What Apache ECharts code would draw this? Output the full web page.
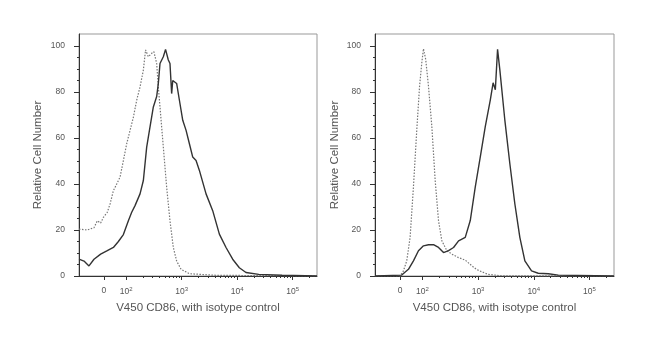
<!DOCTYPE html>
<html><head><meta charset="utf-8">
<script src="https://cdn.jsdelivr.net/npm/echarts@6/dist/echarts.min.js"></script>
<style>html,body{margin:0;padding:0;background:#fff}#c{width:650px;height:347px}</style>
</head><body><div id="c"></div>
<script>
// x values are in display units of the logicle axis (decades: 2 = 10^2, 3 = 10^3 ...; 1.6 = 0)
var xTickValues = [1.6, 2, 3, 4, 5];
var xTickLabels = ['0', '10{s|2}', '10{s|3}', '10{s|4}', '10{s|5}'];
var yTickValues = [0, 20, 40, 60, 80, 100];
var yTitle = 'Relative Cell Number';
var xTitle = 'V450 CD86, with isotype control';

// Left panel
var leftSolidX = [1.15,1.24,1.33,1.42,1.54,1.66,1.77,1.86,1.95,2.04,2.10,2.16,2.25,2.31,2.37,2.43,2.49,2.55,2.58,2.61,2.67,2.71,2.76,2.79,2.82,2.84,2.91,2.96,3.02,3.08,3.14,3.20,3.26,3.32,3.44,3.56,3.68,3.80,3.92,4.04,4.16,4.39,4.81,5.44];
var leftSolidY = [7.3,6.5,4.4,7.3,9.5,11,12.4,15,18,24,27.7,30.6,35.7,41.5,56,64.8,73.5,78,83.7,92.4,95.3,98.5,93.9,92.4,79.3,85,83.7,76.4,67.7,63.3,57.5,51.7,50.2,45.9,35.7,28.4,18.2,12.4,7.3,3.6,1.5,0.7,0.3,0];
var leftDotX = [1.15,1.30,1.42,1.48,1.54,1.59,1.66,1.71,1.77,1.83,1.89,1.95,2.01,2.07,2.13,2.19,2.25,2.31,2.35,2.40,2.46,2.50,2.55,2.58,2.61,2.67,2.73,2.79,2.85,2.91,2.99,3.14,3.62,5.44];
var leftDotY = [20.4,20,21,24,23,25.5,27.7,31.3,37.1,40,43,50.2,57.5,63.3,69,76.4,82.2,89.5,98.3,95.3,96.8,97.5,92.4,82.2,73.5,56,38.6,24,12.4,6.5,2.9,1,0.3,0];

// Right panel
var rightSolidX = [1.15,1.63,1.75,1.84,1.93,2.02,2.11,2.20,2.29,2.38,2.47,2.56,2.65,2.77,2.86,2.95,3.04,3.13,3.22,3.27,3.31,3.35,3.39,3.48,3.57,3.66,3.75,3.84,3.96,4.08,4.26,4.44,5.44];
var rightSolidY = [0,0.4,2.9,6.6,11,13.1,13.6,13.6,12.4,10.2,11,12.4,15.3,16.8,24.1,38.7,51.8,65,76.6,84,81,98.5,89.8,67.9,48.9,31.4,16.8,6.6,2.2,1.2,1,0.4,0];
var rightDotX = [1.15,1.60,1.66,1.72,1.78,1.84,1.90,1.95,1.99,2.02,2.06,2.11,2.17,2.23,2.29,2.35,2.44,2.53,2.65,2.77,2.89,2.97,3.06,3.18,3.42,5.44];
var rightDotY = [0,0,2.2,6.6,16.8,38.7,63.5,82.5,92.7,98.8,94.2,82.5,65,41.6,24.1,15.3,11,9.5,8,6.9,4.4,2.9,1.9,0.7,0.1,0];

function pairs(xs, ys){ return xs.map(function(x,i){ return [x, ys[i]]; }); }

var minorX = [];
[2,3,4].forEach(function(e){ for (var k=2;k<=9;k++) minorX.push(e + Math.log10(k)); });
minorX.push(5 + Math.log10(2));
var minorY = [];
for (var v=0; v<=100; v+=5) if (v % 20) minorY.push(v);

var font = 'Liberation Sans, Arial, sans-serif';
var txt = '#555';
var axisCol = '#333';
var grids = [{left:79, width:238, top:34, height:242, yGap:35}, {left:375, width:239, top:34, height:242, yGap:34}];

var option = {backgroundColor:'#fff', animation:false, grid:[], xAxis:[], yAxis:[], series:[]};
grids.forEach(function(g, p){
  option.grid.push({left:g.left, width:g.width, top:g.top, height:g.height, show:true, borderColor:'#999', borderWidth:1, backgroundColor:'transparent'});
  option.xAxis.push({type:'value', gridIndex:p, min:1.15, max:5.44, position:'bottom',
    name:xTitle, nameLocation:'middle', nameGap:24, nameTextStyle:{color:txt, fontSize:11.5, fontFamily:font},
    axisLine:{show:true, lineStyle:{color:axisCol, width:1}},
    splitLine:{show:false},
    axisTick:{show:true, customValues:xTickValues, length:4, inside:false, lineStyle:{color:axisCol}},
    axisLabel:{customValues:xTickValues, color:txt, fontSize:8.5, fontFamily:font, margin:10,
      formatter:function(v){ for (var i=0;i<xTickValues.length;i++){ if (Math.abs(v-xTickValues[i])<1e-6) return xTickLabels[i]; } return ''; },
      rich:{s:{fontSize:6, verticalAlign:'top', padding:[0,0,6,0], color:txt, fontFamily:font}}}
  });
  option.xAxis.push({type:'value', gridIndex:p, min:1.15, max:5.44, position:'bottom',
    axisLine:{show:false}, splitLine:{show:false},
    axisTick:{show:true, customValues:minorX, length:2, inside:false, lineStyle:{color:axisCol}},
    axisLabel:{show:false}
  });
  option.yAxis.push({type:'value', gridIndex:p, min:0, max:105.2, position:'left',
    name:yTitle, nameLocation:'middle', nameGap:g.yGap, nameRotate:90, nameTextStyle:{color:txt, fontSize:11.5, fontFamily:font},
    axisLine:{show:true, lineStyle:{color:axisCol, width:1}},
    splitLine:{show:false},
    axisTick:{show:true, customValues:yTickValues, length:5, lineStyle:{color:axisCol}},
    axisLabel:{customValues:yTickValues, color:txt, fontSize:8.5, fontFamily:font, margin:14}
  });
  option.yAxis.push({type:'value', gridIndex:p, min:0, max:105.2, position:'left',
    axisLine:{show:false}, splitLine:{show:false},
    axisTick:{show:true, customValues:minorY, length:2, lineStyle:{color:axisCol}},
    axisLabel:{show:false}
  });
});

var panels = [[leftSolidX,leftSolidY,leftDotX,leftDotY],[rightSolidX,rightSolidY,rightDotX,rightDotY]];
panels.forEach(function(d, p){
  option.series.push({type:'line', xAxisIndex:2*p, yAxisIndex:2*p, data:pairs(d[2], d[3]), showSymbol:false, symbol:'none',
    lineStyle:{color:'#777', width:1.2, type:[1.5,1.5]}, z:2});
  option.series.push({type:'line', xAxisIndex:2*p, yAxisIndex:2*p, data:pairs(d[0], d[1]), showSymbol:false, symbol:'none',
    lineStyle:{color:'#333', width:1.4}, z:3});
});

var chart = echarts.init(document.getElementById('c'), null, {renderer:'canvas'});
chart.setOption(option);
</script>
</body></html>
